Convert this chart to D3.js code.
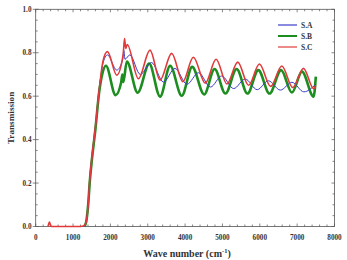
<!DOCTYPE html>
<html>
<head>
<meta charset="utf-8">
<script src="https://cdn.jsdelivr.net/npm/d3@7"></script>
<style>
  body { margin: 0; background: #fff; }
  svg { display: block; }
</style>
</head>
<body>
<svg id="svg"></svg>
<script>
const width = 347, height = 260;

const seriesNames = ["S.A", "S.B", "S.C"];
const seriesColors = ["#3c3cc8", "#1c8e1f", "#e03a3a"];

// wavenumber / transmission pairs
const waveA = [1300, 1350, 1400, 1450, 1500, 1600, 1700, 1800, 1920, 2170, 2330, 2360, 2390, 2520, 2800, 3100, 3420, 3730, 4050, 4360, 4680, 4980, 5300, 5610, 5930, 6230, 6550, 6860, 7180, 7500];
const transA = [0.0, 0.02, 0.09, 0.22, 0.31, 0.46, 0.63, 0.75, 0.79, 0.72, 0.77, 0.81, 0.77, 0.79, 0.70, 0.755, 0.665, 0.728, 0.655, 0.708, 0.642, 0.693, 0.635, 0.679, 0.63, 0.671, 0.628, 0.664, 0.62, 0.655];

const waveB = [1300, 1350, 1400, 1450, 1500, 1600, 1700, 1780, 1880, 2140, 2290, 2320, 2345, 2440, 2730, 3040, 3330, 3600, 3910, 4190, 4510, 4790, 5080, 5380, 5670, 5960, 6260, 6570, 6860, 7130, 7440, 7500];
const transB = [0.0, 0.02, 0.09, 0.21, 0.30, 0.45, 0.62, 0.70, 0.74, 0.605, 0.665, 0.70, 0.665, 0.76, 0.616, 0.75, 0.598, 0.74, 0.602, 0.735, 0.608, 0.725, 0.612, 0.725, 0.612, 0.72, 0.612, 0.72, 0.617, 0.713, 0.598, 0.69];

const waveC = [330, 370, 390, 420, 800, 1200, 1300, 1350, 1400, 1450, 1500, 1600, 1700, 1800, 1920, 2170, 2340, 2380, 2410, 2450, 2750, 3060, 3330, 3640, 3940, 4220, 4540, 4830, 5120, 5410, 5700, 5990, 6290, 6590, 6880, 7170, 7440, 7500];
const transC = [0.0, 0.02, 0.01, 0.0, 0.0, 0.0, 0.005, 0.02, 0.09, 0.22, 0.31, 0.46, 0.63, 0.76, 0.805, 0.697, 0.79, 0.865, 0.82, 0.838, 0.68, 0.812, 0.674, 0.797, 0.667, 0.779, 0.66, 0.77, 0.656, 0.757, 0.65, 0.748, 0.645, 0.739, 0.64, 0.728, 0.635, 0.65];

const xTicks = [0, 1000, 2000, 3000, 4000, 5000, 6000, 7000, 8000];
const yTicks = [0.0, 0.2, 0.4, 0.6, 0.8, 1.0];

const svg = d3.select("#svg").attr("width", width).attr("height", height);

const x = d3.scaleLinear().domain([0, 8000]).range([35.7, 334.5]);
const y = d3.scaleLinear().domain([0, 1]).range([226.5, 9.3]);

const font = "'Liberation Serif', 'Times New Roman', serif";

// frame
svg.append("rect")
    .attr("x", x(0)).attr("y", y(1))
    .attr("width", x(8000) - x(0)).attr("height", y(0) - y(1))
    .attr("fill", "none").attr("stroke", "#555").attr("stroke-width", 0.8);

// minor + major ticks on all four sides
const g = svg.append("g").attr("stroke", "#555").attr("stroke-width", 0.7);
d3.range(0, 8001, 200).forEach(v => {
    let major = v % 1000 === 0;
    let len = major ? 3 : 2;
    g.append("line").attr("x1", x(v)).attr("x2", x(v)).attr("y1", y(0)).attr("y2", y(0) - len);
    g.append("line").attr("x1", x(v)).attr("x2", x(v)).attr("y1", y(1)).attr("y2", y(1) + len);
});
d3.range(0, 21).map(i => i * 0.05).forEach((v, i) => {
    let major = i % 4 === 0;
    let len = major ? 3 : 2;
    g.append("line").attr("x1", x(0) - (major ? 3 : 0)).attr("x2", x(0) + len).attr("y1", y(v)).attr("y2", y(v));
    g.append("line").attr("x1", x(8000)).attr("x2", x(8000) - len).attr("y1", y(v)).attr("y2", y(v));
});

// tick labels
svg.append("g").selectAll("text").data(xTicks).enter().append("text")
    .attr("x", d => x(d)).attr("y", 239.5)
    .attr("text-anchor", "middle")
    .attr("font-family", font).attr("font-weight", "bold").attr("font-size", 7.2)
    .attr("fill", "#333")
    .text(d => d);

svg.append("g").selectAll("text").data(yTicks).enter().append("text")
    .attr("x", 31.5).attr("y", d => y(d) + 2.5)
    .attr("text-anchor", "end")
    .attr("font-family", font).attr("font-weight", "bold").attr("font-size", 7.2)
    .attr("fill", "#333")
    .text(d => d.toFixed(1));

// axis titles
let xt = svg.append("text")
    .attr("x", 187).attr("y", 257)
    .attr("text-anchor", "middle")
    .attr("font-family", font).attr("font-weight", "bold").attr("font-size", 10)
    .attr("fill", "#333");
xt.append("tspan").text("Wave number (cm");
xt.append("tspan").attr("font-size", 6.5).attr("dy", -4).text("-1");
xt.append("tspan").attr("dy", 4).text(")");

svg.append("text")
    .attr("transform", "translate(14," + y(0.5) + ") rotate(-90)")
    .attr("text-anchor", "middle")
    .attr("font-family", font).attr("font-weight", "bold").attr("font-size", 9.2)
    .attr("fill", "#333")
    .text("Transmission");

// curves
const series = [
    { wave: waveA, trans: transA, w: 1 },
    { wave: waveB, trans: transB, w: 2.6 },
    { wave: waveC, trans: transC, w: 1.6 }
];

const line = d3.line()
    .x(d => x(d[0]))
    .y(d => y(d[1]))
    .curve(d3.curveMonotoneX);

[1, 0, 2].forEach(i => {
    let s = series[i];
    svg.append("path")
        .datum(s.wave.map((w, j) => [w, s.trans[j]]))
        .attr("d", line)
        .attr("fill", "none")
        .attr("stroke", seriesColors[i])
        .attr("stroke-width", s.w)
        .attr("stroke-linejoin", "round");
});

// legend
const legend = svg.append("g");
seriesNames.forEach((name, i) => {
    let ly = 25 + i * 11;
    legend.append("line")
        .attr("x1", 278).attr("x2", 297).attr("y1", ly).attr("y2", ly)
        .attr("stroke", seriesColors[i]).attr("stroke-width", i === 1 ? 2 : 1.2);
    legend.append("text")
        .attr("x", 301).attr("y", ly + 2.5)
        .attr("font-family", font).attr("font-size", 7.5).attr("font-weight", "bold")
        .attr("fill", "#333")
        .text(name);
});
</script>
</body>
</html>
